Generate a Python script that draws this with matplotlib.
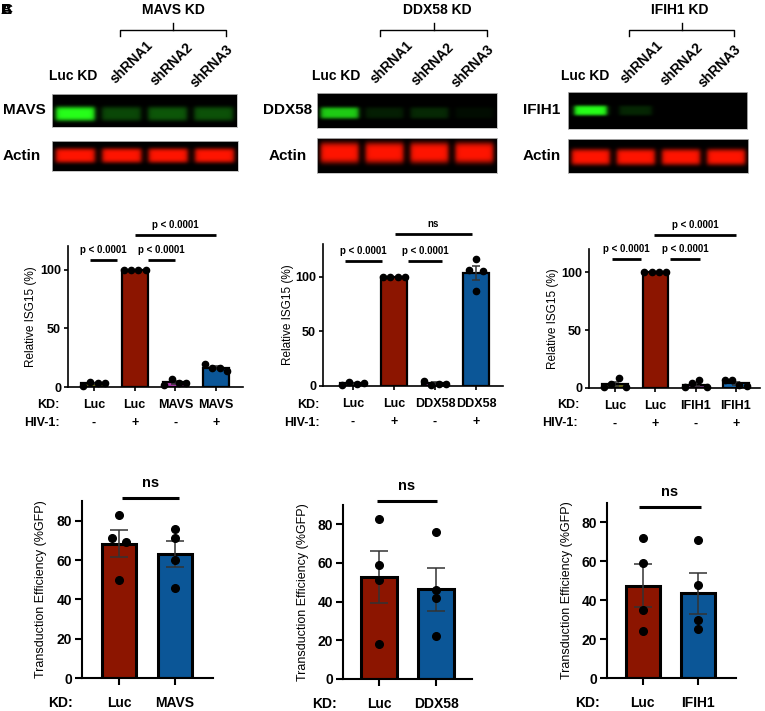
import numpy as np
import matplotlib
matplotlib.use('Agg')
import matplotlib.pyplot as plt
from matplotlib.lines import Line2D

plt.rcParams['font.family'] = ['Liberation Sans', 'DejaVu Sans']

W, H = 765, 711

# western blot lanes and band intensities (0-1)
lanes = ['Luc KD', 'shRNA1', 'shRNA2', 'shRNA3']
mavs_band = [1.0, 0.28, 0.34, 0.32]
ddx58_band = [0.8, 0.12, 0.16, 0.05]
ifih1_band = [1.0, 0.15, 0.0, 0.0]
actin_mavs = [1.0, 1.0, 1.0, 1.0]
actin_ddx58 = [1.0, 1.0, 1.0, 1.0]
actin_ifih1 = [1.0, 1.0, 1.0, 1.0]

# relative ISG15 (%), one list of replicates per bar
hiv_signs = ['-', '+', '-', '+']
isg_mavs_kd = ['Luc', 'Luc', 'MAVS', 'MAVS']
isg_mavs = [[1, 4.5, 3.5, 3], [100, 100, 100, 100], [2, 7, 3.5, 3], [19.5, 16.5, 16, 14]]
isg_ddx58_kd = ['Luc', 'Luc', 'DDX58', 'DDX58']
isg_ddx58 = [[1, 4, 2, 3], [100, 100, 100, 100], [5, 1, 2, 2], [116, 106, 105, 87]]
isg_ifih1_kd = ['Luc', 'Luc', 'IFIH1', 'IFIH1']
isg_ifih1 = [[0.5, 3.5, 8.5, 0.5], [100, 100, 100, 100], [0.5, 4, 6.5, 0.5], [6.5, 6.5, 2.5, 1.5]]

# significance: (bar from, bar to, line height, label)
sig_mavs = [(-0.1, 0.57, 108, 'p < 0.0001'), (1.32, 2.0, 108, 'p < 0.0001'), (1.0, 3.0, 129, 'p < 0.0001')]
sig_ddx58 = [(-0.2, 0.7, 114, 'p < 0.0001'), (1.34, 2.17, 114, 'p < 0.0001'), (1.02, 2.9, 139, 'ns')]
sig_ifih1 = [(-0.07, 0.65, 111, 'p < 0.0001'), (1.36, 2.11, 111, 'p < 0.0001'), (0.97, 3.0, 132, 'p < 0.0001')]

# transduction efficiency (%GFP)
te_mavs_kd = ['Luc', 'MAVS']
te_mavs = [[71, 83, 50, 69], [76, 71, 60, 46]]
te_ddx58_kd = ['Luc', 'DDX58']
te_ddx58 = [[83, 59, 51, 18], [76, 46, 42, 22]]
te_ifih1_kd = ['Luc', 'IFIH1']
te_ifih1 = [[72, 59, 35, 24], [71, 48, 30, 25]]

red = '#8c1500'
blue = '#0b5697'

fig = plt.figure(figsize=(W / 100, H / 100), dpi=100)


def px_axes(l, t, r, b):
    return fig.add_axes([l / W, 1 - b / H, (r - l) / W, (b - t) / H])


def ftext(x, y, s, **kw):
    kw.setdefault('fontweight', 'bold')
    fig.text(x / W, 1 - y / H, s, **kw)


def fline(xs, ys, lw=1.0):
    fig.add_artist(Line2D([x / W for x in xs], [1 - y / H for y in ys],
                          transform=fig.transFigure, color='black', lw=lw))


def band_image(vals, color, center, half, lane_w=0.84):
    x = np.linspace(0, 4, 400)
    y = np.linspace(0, 1, 80)
    img = np.zeros((80, 400, 3))
    for i, v in enumerate(vals):
        a = i + (1 - lane_w) / 2
        hx = 1 / (1 + np.exp(-(x - a) / 0.03)) / (1 + np.exp((x - a - lane_w) / 0.03))
        vy = np.exp(-((y - center) / half) ** 4)
        img += v * np.outer(vy, hx)[..., None] * np.array(color)
    return np.clip(img, 0, 1)


def blot(rect, vals, color, center, half, name, name_x, lane_w=0.84):
    ax = px_axes(*rect)
    ax.imshow(band_image(vals, color, center, half, lane_w), extent=(0, 4, 1, 0), aspect='auto')
    ax.set_facecolor('black')
    ax.set_xticks([])
    ax.set_yticks([])
    for s in ax.spines.values():
        s.set_color('#bbbbbb')
        s.set_linewidth(0.6)
    ftext(name_x, (rect[1] + rect[3]) / 2, name, ha='center', va='center', fontsize=11)


def header(title, tx, bx0, bx1, lane_xs, luc_x):
    ftext(tx, 10, title, ha='center', va='center', fontsize=10)
    fline([bx0, bx0, bx1, bx1], [36, 30, 30, 36])
    fline([(bx0 + bx1) / 2] * 2, [30, 23])
    ftext(luc_x, 76, lanes[0], ha='center', va='center', fontsize=10)
    for lx, ly, lab in zip(lane_xs, [62, 64, 66], lanes[1:]):
        ftext(lx, ly, lab, ha='center', va='center', fontsize=10, rotation=45)


def swarm(vals, ypx, xpx, thr=7, step=14, span=22):
    vals = np.asarray(vals, float)
    order = np.argsort(vals, kind='stable')
    groups, cur = [], [order[0]]
    for a, b in zip(order[:-1], order[1:]):
        if (vals[b] - vals[a]) * ypx < thr:
            cur.append(b)
        else:
            groups.append(cur)
            cur = [b]
    groups.append(cur)
    off = np.zeros(len(vals))
    for g in groups:
        n = len(g)
        if n < 2:
            continue
        sp = min(step, span / (n - 1))
        for k, idx in enumerate(sorted(g)):
            off[idx] = (k - (n - 1) / 2) * sp / xpx
    return off


def bar_panel(rect, ylim, xlim, data, colors, yticks, width, dot_ms, edge_lw,
              spine_lw, cap, tick_len, fs, span):
    ax = px_axes(*rect)
    ypx = (rect[3] - rect[1]) / (ylim[1] - ylim[0])
    xpx = (rect[2] - rect[0]) / (xlim[1] - xlim[0])
    for i, (v, c) in enumerate(zip(data, colors)):
        m = np.mean(v)
        se = np.std(v, ddof=1) / np.sqrt(len(v))
        ax.bar(i, m, width=width, color=c, edgecolor='black', linewidth=edge_lw, zorder=2)
        if se > 0:
            ax.errorbar(i, m, yerr=se, color='#333333', capsize=cap, elinewidth=1.1,
                        capthick=1.1, zorder=3)
        off = swarm(v, ypx, xpx, span=span)
        ax.plot(i + off, v, 'o', color='black', ms=dot_ms, zorder=4, clip_on=False)
    ax.set_xlim(*xlim)
    ax.set_ylim(*ylim)
    ax.set_yticks(yticks)
    ax.set_xticks(range(len(data)))
    ax.set_xticklabels([])
    for s in ['top', 'right']:
        ax.spines[s].set_visible(False)
    for s in ['left', 'bottom']:
        ax.spines[s].set_linewidth(spine_lw)
    ax.tick_params(length=tick_len, width=spine_lw, labelsize=fs, pad=2)
    for t in ax.get_yticklabels():
        t.set_fontweight('bold')
    return ax


def sig(ax, items, lw, fs, dy):
    for x0, x1, y, lab in items:
        ax.plot([x0, x1], [y, y], color='black', lw=lw, clip_on=False, solid_capstyle='butt')
        ax.annotate(lab, xy=((x0 + x1) / 2, y), xytext=(0, dy), textcoords='offset points',
                    ha='center', va='center', fontsize=fs, fontweight='bold',
                    annotation_clip=False)


def row(ax, labels, dy, fs):
    for i, lab in enumerate(labels):
        ax.annotate(lab, xy=(i, 0), xycoords=('data', 'axes fraction'), xytext=(0, dy),
                    textcoords='offset points', ha='center', va='center', fontsize=fs,
                    fontweight='bold', annotation_clip=False)


# panel letters (overlapping in the source)
for letter in ['A', 'B', 'C']:
    ftext(1, 10, letter, ha='left', va='center', fontsize=11)

# ---- western blots ----
header('MAVS KD', 173, 120, 226, [132, 172, 212], 73)
blot((52, 94, 237, 127), mavs_band, (0.15, 1.0, 0.1), 0.6, 0.22, 'MAVS', 24)
blot((52, 141, 238, 171), actin_mavs, (1.0, 0.08, 0.0), 0.5, 0.24, 'Actin', 22)

header('DDX58 KD', 437, 380, 487, [392, 433, 473], 336)
blot((317, 93, 497, 128), ddx58_band, (0.15, 1.0, 0.1), 0.57, 0.17, 'DDX58', 288)
blot((317, 138, 497, 173), actin_ddx58, (1.0, 0.08, 0.0), 0.42, 0.3, 'Actin', 288)

header('IFIH1 KD', 680, 629, 734, [642, 682, 720], 585)
blot((568, 92, 747, 129), ifih1_band, (0.15, 1.0, 0.1), 0.5, 0.14, 'IFIH1', 542, lane_w=0.72)
blot((568, 139, 748, 173), actin_ifih1, (1.0, 0.08, 0.0), 0.53, 0.24, 'Actin', 542)

# ---- relative ISG15 ----
mid = [
    ((68, 246, 243, 387), (0, 120), (-0.64, 3.66), isg_mavs, isg_mavs_kd, sig_mavs,
     ['#6e6e1c', red, '#b23cb0', blue], -0.21, (60, 60)),
    ((323, 244, 503, 386), (0, 130), (-0.73, 3.66), isg_ddx58, isg_ddx58_kd, sig_ddx58,
     ['#6e6e1c', red, '#8a3c96', blue], -0.195, (320, 320)),
    ((589, 249, 760, 388), (0, 120), (-0.645, 3.6), isg_ifih1, isg_ifih1_kd, sig_ifih1,
     ['#6e6e1c', red, '#7a3a8a', '#1768ad'], -0.21, (579, 578)),
]
for rect, yl, xl, data, kd, sg, cols, ylx, (kdx, hivx) in mid:
    ax = bar_panel(rect, yl, xl, data, cols, [0, 50, 100], 0.63, 4.5, 1.6, 1.2, 3, 3, 9, 22)
    sig(ax, sg, 2.0, 7, 7.2)
    row(ax, kd, -13, 9)
    row(ax, hiv_signs, -26, 9)
    ax.text(ylx, 0.5, 'Relative ISG15 (%)', rotation=90, ha='center', va='center',
            fontsize=8.5, transform=ax.transAxes)
    ftext(kdx, 405, 'KD:', ha='right', va='center', fontsize=9)
    ftext(hivx, 423, 'HIV-1:', ha='right', va='center', fontsize=9)

# ---- transduction efficiency ----
bot = [
    ((82, 501, 213, 678), (-0.66, 1.68), te_mavs, te_mavs_kd, (0.05, 1.07, 91.5), 73),
    ((343, 505, 472, 679), (-0.63, 1.63), te_ddx58, te_ddx58_kd, (-0.04, 1.02, 92), 337),
    ((607, 503, 736, 678), (-0.65, 1.69), te_ifih1, te_ifih1_kd, (-0.07, 1.05, 88), 600),
]
for rect, xl, data, kd, (x0, x1, y), kdx in bot:
    ax = bar_panel(rect, (0, 90), xl, data, [red, blue], [0, 20, 40, 60, 80], 0.62, 5.5,
                   2.2, 1.5, 6.5, 5, 10, 28)
    sig(ax, [(x0, x1, y, 'ns')], 2.2, 10.5, 10.8)
    row(ax, kd, -18, 10)
    ax.text(-0.31, 0.5, 'Transduction Efficiency (%GFP)', rotation=90, ha='center',
            va='center', fontsize=9, transform=ax.transAxes)
    ftext(kdx, (rect[3] + 25), 'KD:', ha='right', va='center', fontsize=10)

fig.savefig('out.png', dpi=100)
